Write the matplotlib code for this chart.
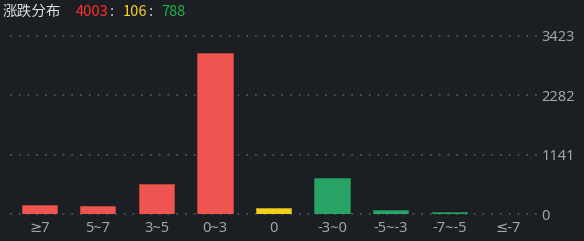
import matplotlib
matplotlib.use("Agg")
import matplotlib.pyplot as plt

plt.rcParams['font.family'] = ['Noto Sans CJK SC', 'DejaVu Sans']
plt.rcParams['lines.scale_dashes'] = False

# Distribution of price changes (%) across stocks
categories = ["≥7", "5~7", "3~5", "0~3", "0", "-3~0", "-5~-3", "-7~-5", "≤-7"]
counts = [173, 150, 580, 3100, 106, 687, 71, 30, 0]
bar_kinds = ["up", "up", "up", "up", "flat", "down", "down", "down", "down"]
y_ticks = [0, 1141, 2282, 3423]
summary_up, summary_flat, summary_down = 4003, 106, 788

BG = "#1b1e23"
FILL = {"up": "#ee5550", "flat": "#f0cf1e", "down": "#27a465"}
EDGE = {"up": "#b8423e", "flat": "#b89e18", "down": "#1e7f4f"}
TICK_COLOR = "#a2a6ab"
GRID_COLOR = "#4a4f56"
TICK_FONT = ['Noto Sans', 'DejaVu Sans']

fig = plt.figure(figsize=(5.84, 2.41), dpi=100, facecolor=BG)
ax = fig.add_axes([10 / 584, 27 / 241, 527 / 584, 178 / 241], facecolor=BG)

x = list(range(len(categories)))
ax.bar(x, counts, width=0.6,
       color=[FILL[k] for k in bar_kinds],
       edgecolor=[EDGE[k] for k in bar_kinds], linewidth=0.7, zorder=3)

ax.set_xlim(-0.5, len(categories) - 0.5)
ax.set_ylim(0, y_ticks[-1])

for v in y_ticks:
    ax.axhline(v, color=GRID_COLOR, lw=1.4, linestyle=(0, (1.3, 5.0)), zorder=1,
               clip_on=False)

for s in ax.spines.values():
    s.set_visible(False)

ax.set_xticks(x)
ax.set_xticklabels(categories, family=TICK_FONT)
ax.yaxis.tick_right()
ax.set_yticks(y_ticks)
ax.set_yticklabels([str(v) for v in y_ticks], family=TICK_FONT)
ax.tick_params(axis='both', length=0, colors=TICK_COLOR, labelsize=10.5)
ax.tick_params(axis='x', pad=5)
ax.tick_params(axis='y', pad=3)

# Header: title followed by up / flat / down counts
title = fig.text(3 / 584, 1 - 12 / 241, "涨跌分布", color="#dcdfe3",
                 fontsize=10.5, va='center', ha='left')
parts = [(str(summary_up), "#ff2d2d", 10), (":", "#dcdfe3", 1.5),
         (str(summary_flat), "#f4d12a", 6), (":", "#dcdfe3", 1.5),
         (str(summary_down), "#23b04a", 6)]
prev = title
for txt, col, gap in parts:
    prev = ax.annotate(txt, xy=(1, 0.5), xycoords=prev,
                       xytext=(gap, 0), textcoords='offset points',
                       color=col, fontsize=10.5, va='center', ha='left',
                       annotation_clip=False)

fig.savefig("out.png", dpi=100, facecolor=BG)
